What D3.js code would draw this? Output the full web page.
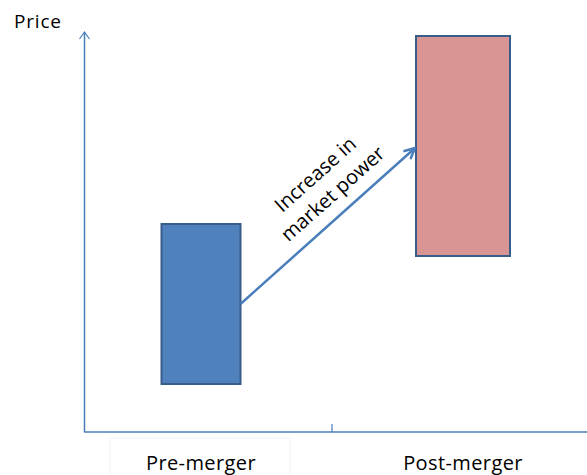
<!DOCTYPE html>
<html>
<head>
<meta charset="utf-8">
<script src="https://cdn.jsdelivr.net/npm/d3@7"></script>
<style>
  html, body { margin: 0; padding: 0; background: #fff; }
  svg { display: block; }
  text { font-family: "Open Sans", "Noto Sans", sans-serif; fill: #000; }
</style>
</head>
<body>
<svg id="chart" width="587" height="475"></svg>
<script>
// Price ranges before and after the merger (arbitrary price units)
const categories = ["Pre-merger", "Post-merger"];
const priceLow = [12, 44];
const priceHigh = [52, 99];
// Arrow from the pre-merger range to the post-merger range
const arrowFrom = 32;
const arrowTo = 71;
const arrowLabel = ["Increase in", "market power"];
const yTitle = "Price";

const svg = d3.select("#chart");
const axisColor = "#4a7ebb";

const x = d3.scaleBand().domain(categories).range([70, 594]);
const y = d3.scaleLinear().domain([0, 100]).range([432, 32]);

const barWidth = { "Pre-merger": 79, "Post-merger": 94 };
const barFill = { "Pre-merger": "#4f81bd", "Post-merger": "#d99594" };

// Axes
svg.append("line")
  .attr("x1", 84.5).attr("x2", 84.5)
  .attr("y1", y(0)).attr("y2", y(100) + 1)
  .attr("stroke", axisColor).attr("stroke-width", 1.5);
svg.append("path")
  .attr("d", `M${84.5 - 5},${y(100) + 7} L84.5,${y(100)} L${84.5 + 5},${y(100) + 7}`)
  .attr("fill", "none").attr("stroke", axisColor).attr("stroke-width", 1.2);

svg.append("line")
  .attr("x1", 84).attr("x2", 587)
  .attr("y1", y(0)).attr("y2", y(0))
  .attr("stroke", axisColor).attr("stroke-width", 1.5);

// Category divider tick
svg.append("line")
  .attr("x1", x(categories[1])).attr("x2", x(categories[1]))
  .attr("y1", y(0) - 8).attr("y2", y(0))
  .attr("stroke", axisColor).attr("stroke-width", 1.2);

// Faint label frame
svg.append("rect")
  .attr("x", 110).attr("y", 438).attr("width", 180).attr("height", 45)
  .attr("fill", "none").attr("stroke", "#f2f2f2").attr("stroke-width", 1);

// Category labels
svg.selectAll("text.cat")
  .data(categories)
  .join("text")
  .attr("class", "cat")
  .attr("x", d => x(d) + x.bandwidth() / 2)
  .attr("y", 470)
  .attr("text-anchor", "middle")
  .attr("font-size", 20)
  .attr("letter-spacing", 0.4)
  .text(d => d);

// Y title
svg.append("text")
  .attr("x", 14).attr("y", 28)
  .attr("font-size", 19)
  .attr("letter-spacing", 0.8)
  .text(yTitle);

// Price range bars
svg.selectAll("rect.bar")
  .data(categories)
  .join("rect")
  .attr("class", "bar")
  .attr("x", (d) => x(d) + x.bandwidth() / 2 - barWidth[d] / 2)
  .attr("width", d => barWidth[d])
  .attr("y", (d, i) => y(priceHigh[i]))
  .attr("height", (d, i) => y(priceLow[i]) - y(priceHigh[i]))
  .attr("fill", d => barFill[d])
  .attr("stroke", "#385d8a")
  .attr("stroke-width", 2);

// Arrow between ranges
const x0 = x(categories[0]) + x.bandwidth() / 2 + barWidth[categories[0]] / 2;
const x1 = x(categories[1]) + x.bandwidth() / 2 - barWidth[categories[1]] / 2 - 1;
const ax0 = x0, ay0 = y(arrowFrom), ax1 = x1, ay1 = y(arrowTo);
svg.append("line")
  .attr("x1", ax0).attr("y1", ay0).attr("x2", ax1).attr("y2", ay1)
  .attr("stroke", axisColor).attr("stroke-width", 2.5);
const ang = Math.atan2(ay1 - ay0, ax1 - ax0);
const hl = 11, hw = 0.45;
svg.append("path")
  .attr("d", `M${ax1 - hl * Math.cos(ang - hw)},${ay1 - hl * Math.sin(ang - hw)} L${ax1},${ay1} L${ax1 - hl * Math.cos(ang + hw)},${ay1 - hl * Math.sin(ang + hw)}`)
  .attr("fill", "none").attr("stroke", axisColor).attr("stroke-width", 2.5)
  .attr("stroke-linecap", "round").attr("stroke-linejoin", "round");

// Rotated arrow label
const deg = ang * 180 / Math.PI;
const lbl = svg.append("g")
  .attr("transform", `translate(324,184) rotate(${deg})`);
lbl.selectAll("text")
  .data(arrowLabel)
  .join("text")
  .attr("x", 0)
  .attr("y", (d, i) => i * 26 - 6)
  .attr("text-anchor", "middle")
  .attr("font-size", 20)
  .text(d => d);
</script>
</body>
</html>
